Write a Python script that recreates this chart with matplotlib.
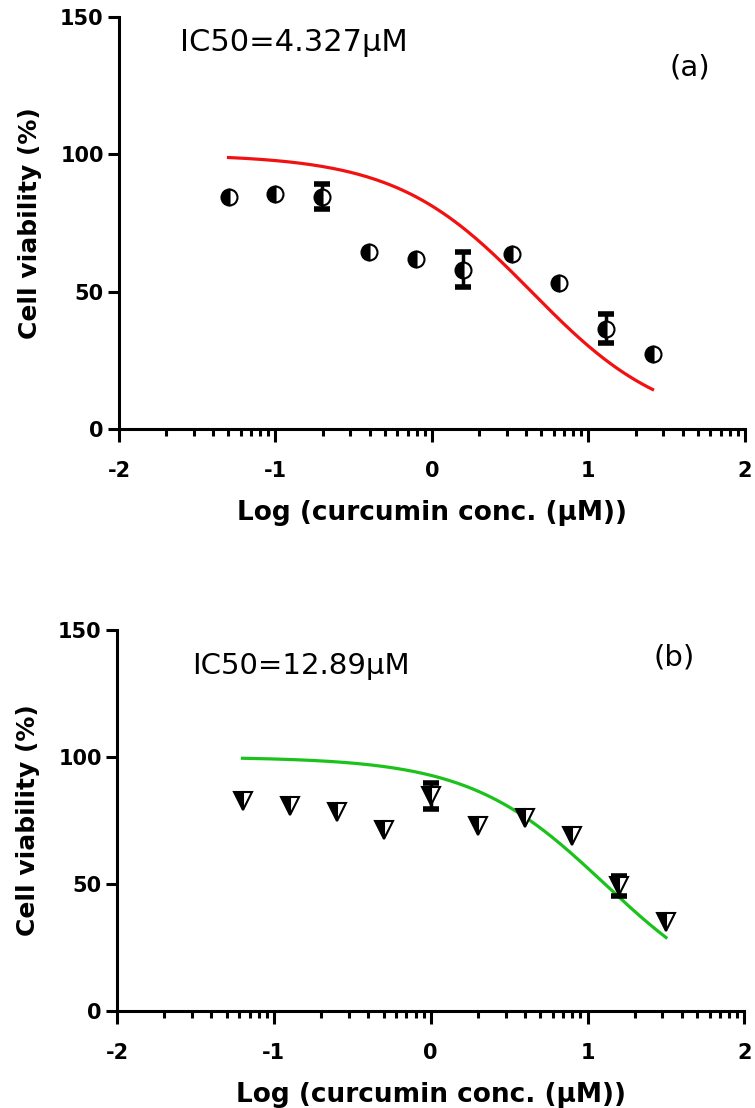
import numpy as np
import matplotlib
matplotlib.use("Agg")
import matplotlib.pyplot as plt

plt.rcParams["axes.unicode_minus"] = False
plt.rcParams["font.family"] = ["DejaVu Sans"]

# panel (a): half-filled circles
log_conc_a = [-1.30, -1.00, -0.70, -0.40, -0.10, 0.20, 0.51, 0.81, 1.11, 1.41]
viab_a = [84.4, 85.6, 84.6, 64.5, 61.8, 58.0, 63.9, 53.3, 36.6, 27.4]
err_a = [0, 0, 4.6, 0, 0, 6.3, 0, 0, 5.4, 0]
ic50_a = 4.327

# panel (b): half-filled down triangles
log_conc_b = [-1.20, -0.90, -0.60, -0.30, 0.00, 0.30, 0.60, 0.90, 1.20, 1.50]
viab_b = [82.6, 80.9, 78.3, 71.2, 84.6, 72.8, 76.1, 68.9, 49.3, 34.9]
err_b = [0, 0, 0, 0, 5.0, 0, 0, 0, 4.0, 0]
ic50_b = 12.89

# fitted model: normalized response, variable slope
top, bottom, hill = 100.0, 0.0, 1.0

xticks = [-2, -1, 0, 1, 2]
yticks = [0, 50, 100, 150]
xlabel = "Log (curcumin conc. (µM))"
ylabel = "Cell viability (%)"


def fit_curve(x0, x1, ic50):
    xs = np.linspace(x0, x1, 200)
    ys = bottom + (top - bottom) / (1 + 10 ** ((xs - np.log10(ic50)) * hill))
    return xs, ys


def draw_panel(ax, x, y, err, ic50, marker, ms, color):
    xs, ys = fit_curve(x[0], x[-1], ic50)
    ax.plot(xs, ys, color=color, lw=2.3, zorder=2)
    # only the points that carry an SD get a bar
    idx = [i for i, e in enumerate(err) if e > 0]
    ax.errorbar([x[i] for i in idx], [y[i] for i in idx], yerr=[err[i] for i in idx],
                fmt="none", ecolor="black", elinewidth=2.5, capsize=6, capthick=4, zorder=3)
    ax.plot(x, y, marker, ls="none", ms=ms, fillstyle="left", markerfacecolor="black",
            markerfacecoloralt="white", markeredgecolor="black", mew=1.5, zorder=4)


def style_axes(ax):
    ax.spines["top"].set_visible(False)
    ax.spines["right"].set_visible(False)
    for s in ("left", "bottom"):
        ax.spines[s].set_linewidth(2.2)
    ax.set_xlim(-2, 2)
    ax.set_ylim(0, 150)
    ax.set_xticks(xticks)
    ax.set_yticks(yticks)
    minors = [d + np.log10(k) for d in range(-2, 2) for k in range(2, 10)]
    ax.set_xticks(minors, minor=True)
    ax.tick_params(axis="x", which="major", length=9, width=2.2, direction="out", pad=14)
    ax.tick_params(axis="x", which="minor", length=5, width=2.2, direction="out")
    ax.tick_params(axis="y", which="major", length=8, width=2.2, direction="out", pad=3)
    for lab in ax.get_xticklabels() + ax.get_yticklabels():
        lab.set_fontweight("bold")
        lab.set_fontsize(15)
    ax.set_xlabel(xlabel, fontweight="bold", fontsize=19, labelpad=14)
    ax.set_ylabel(ylabel, fontweight="bold", fontsize=18, labelpad=13)
    ax.patch.set_alpha(0)


fig = plt.figure(figsize=(7.55, 11.08), dpi=100)
ax1 = fig.add_axes([0.1576, 0.6128, 0.829, 0.3718])
ax2 = fig.add_axes([0.155, 0.0875, 0.831, 0.3439])

draw_panel(ax1, log_conc_a, viab_a, err_a, ic50_a, "o", 11.5, "#f21111")
style_axes(ax1)
ax1.text(-1.61, 140.7, "IC50=4.327µM", fontsize=22, va="center", ha="left")
ax1.text(1.65, 131.6, "(a)", fontsize=21, va="center", ha="center")

draw_panel(ax2, log_conc_b, viab_b, err_b, ic50_b, "v", 13, "#1cc21c")
style_axes(ax2)
ax2.text(-1.52, 136, "IC50=12.89µM", fontsize=21, va="center", ha="left")
ax2.text(1.55, 139, "(b)", fontsize=21, va="center", ha="center")

fig.savefig("out.png", dpi=100)
